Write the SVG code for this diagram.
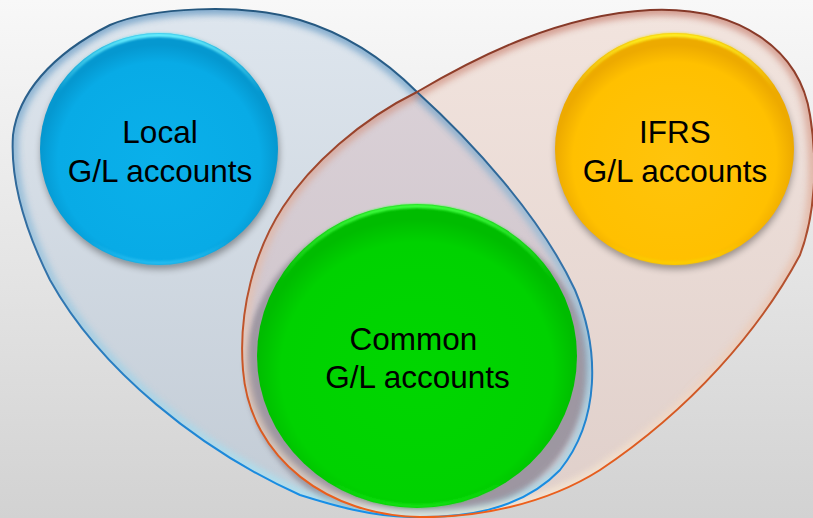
<svg xmlns="http://www.w3.org/2000/svg" width="813" height="518" viewBox="0 0 813 518">
<style>
.lbl{font-family:"Liberation Sans",Arial,sans-serif;font-size:31.5px;fill:#000;text-anchor:middle}
</style>
<defs>
<linearGradient id="bg" x1="0" y1="0" x2="0" y2="1"><stop offset="0" stop-color="#F8F8F8"/><stop offset="1" stop-color="#D2D2D2"/></linearGradient>
<linearGradient id="blueFill" x1="0" y1="0" x2="0" y2="1"><stop offset="0" stop-color="#DEE6EE"/><stop offset="1" stop-color="#C2CBD5"/></linearGradient>
<linearGradient id="orangeFill" x1="0" y1="0" x2="0" y2="1"><stop offset="0" stop-color="#F2E4DE"/><stop offset="1" stop-color="#DFCFCA"/></linearGradient>
<linearGradient id="overFill" x1="0" y1="0" x2="0" y2="1"><stop offset="0" stop-color="#DDD4DA"/><stop offset="1" stop-color="#C9BEC5"/></linearGradient>
<linearGradient id="blueEdge" x1="0" y1="0" x2="0" y2="1"><stop offset="0" stop-color="#25577E"/><stop offset="0.5" stop-color="#3572A8"/><stop offset="1" stop-color="#1590EA"/></linearGradient>
<linearGradient id="blueGlow" x1="0" y1="0" x2="0" y2="1"><stop offset="0" stop-color="#4A86B8"/><stop offset="0.45" stop-color="#7FB6D8"/><stop offset="1" stop-color="#A8F0FF"/></linearGradient>
<linearGradient id="orangeEdge" x1="0" y1="0" x2="0" y2="1"><stop offset="0" stop-color="#843828"/><stop offset="0.5" stop-color="#B05030"/><stop offset="1" stop-color="#F0601A"/></linearGradient>
<linearGradient id="orangeGlow" x1="0" y1="0" x2="0" y2="1"><stop offset="0" stop-color="#C07060"/><stop offset="0.5" stop-color="#E8B8A0"/><stop offset="1" stop-color="#FFF4DC"/></linearGradient>
<path id="blueShape" d="M 13 135 C 18 95, 50 55, 110 25 C 150 8, 240 2, 300 20 C 350 35, 390 65, 417 92 C 470 140, 540 215, 575 290 C 600 350, 600 420, 560 470 C 520 512, 460 518, 410 517 C 370 516, 335 506, 300 495 C 200 450, 100 370, 50 280 C 25 230, 10 180, 13 135 Z"/>
<path id="orangeShape" d="M 417 92 C 480 55, 560 15, 650 10 C 740 6, 800 50, 810 115 C 818 165, 815 215, 800 255 C 760 330, 690 410, 600 470 C 545 505, 475 518, 420 517 C 330 516, 250 460, 243 370 C 238 310, 255 250, 283 207 C 310 165, 360 120, 417 92 Z"/>
<clipPath id="clipBlue"><use href="#blueShape"/></clipPath>
<clipPath id="clipOrange"><use href="#orangeShape"/></clipPath>
<filter id="blur3" x="-10%" y="-10%" width="120%" height="120%"><feGaussianBlur stdDeviation="3"/></filter>
<filter id="blur1" x="-10%" y="-10%" width="120%" height="120%"><feGaussianBlur stdDeviation="1.2"/></filter>
<filter id="shadow" x="-20%" y="-20%" width="140%" height="140%"><feGaussianBlur stdDeviation="3.5"/></filter>
<filter id="ring" x="-20%" y="-20%" width="140%" height="140%"><feGaussianBlur stdDeviation="2.5"/></filter>
<radialGradient id="gBlue" cx="0.5" cy="0.55" r="0.5"><stop offset="0" stop-color="#0AB0EA"/><stop offset="0.85" stop-color="#08ABE6"/><stop offset="1" stop-color="#0598D0"/></radialGradient>
<radialGradient id="gYellow" cx="0.5" cy="0.55" r="0.5"><stop offset="0" stop-color="#FFC40C"/><stop offset="0.85" stop-color="#FFC000"/><stop offset="1" stop-color="#EDAA00"/></radialGradient>
<radialGradient id="gGreen" cx="0.5" cy="0.55" r="0.5"><stop offset="0" stop-color="#00D600"/><stop offset="0.85" stop-color="#00D200"/><stop offset="1" stop-color="#00BC00"/></radialGradient>
<linearGradient id="hlBlue" x1="0" y1="0" x2="0" y2="1"><stop offset="0" stop-color="#6AF0FF"/><stop offset="0.25" stop-color="#6AF0FF" stop-opacity="0"/><stop offset="0.9" stop-color="#40D0FF" stop-opacity="0"/><stop offset="1" stop-color="#40D0FF" stop-opacity="0.5"/></linearGradient>
<linearGradient id="hlYellow" x1="0" y1="0" x2="0" y2="1"><stop offset="0" stop-color="#FFF020"/><stop offset="0.25" stop-color="#FFF020" stop-opacity="0"/><stop offset="0.9" stop-color="#FFE000" stop-opacity="0"/><stop offset="1" stop-color="#FFE000" stop-opacity="0.5"/></linearGradient>
<linearGradient id="hlGreen" x1="0" y1="0" x2="0" y2="1"><stop offset="0" stop-color="#40FF40"/><stop offset="0.25" stop-color="#40FF40" stop-opacity="0"/><stop offset="0.9" stop-color="#20F020" stop-opacity="0"/><stop offset="1" stop-color="#20F020" stop-opacity="0.5"/></linearGradient>
</defs>

<rect x="0" y="0" width="813" height="518" fill="url(#bg)"/>

<g id="set-local">
  <use href="#blueShape" fill="url(#blueFill)"/>
</g>
<g id="set-ifrs">
  <use href="#orangeShape" fill="url(#orangeFill)"/>
</g>
<g id="set-overlap" clip-path="url(#clipBlue)">
  <use href="#orangeShape" fill="url(#overFill)"/>
  <ellipse cx="417" cy="367" rx="172" ry="158" fill="#8E8894" opacity="0.75" filter="url(#ring)"/>
</g>

<g id="blob-edges">
  <g clip-path="url(#clipBlue)">
    <use href="#blueShape" fill="none" stroke="url(#blueGlow)" stroke-width="12" opacity="0.6" filter="url(#blur3)"/>
  </g>
  <g clip-path="url(#clipOrange)">
    <use href="#orangeShape" fill="none" stroke="url(#orangeGlow)" stroke-width="12" opacity="0.6" filter="url(#blur3)"/>
  </g>
  <use href="#blueShape" fill="none" stroke="url(#blueEdge)" stroke-width="2"/>
  <use href="#orangeShape" fill="none" stroke="url(#orangeEdge)" stroke-width="2"/>
</g>

<g id="node-local">
  <ellipse cx="160" cy="153" rx="119" ry="116" fill="#000" opacity="0.35" filter="url(#shadow)"/>
  <ellipse cx="159" cy="149" rx="119" ry="116" fill="url(#gBlue)"/>
  <ellipse cx="159" cy="149" rx="117" ry="114" fill="none" stroke="url(#hlBlue)" stroke-width="4" filter="url(#blur1)"/>
  <text class="lbl" x="160" y="143">Local</text>
  <text class="lbl" x="160" y="182">G/L accounts</text>
</g>

<g id="node-ifrs">
  <ellipse cx="675" cy="153" rx="119" ry="116" fill="#000" opacity="0.35" filter="url(#shadow)"/>
  <ellipse cx="674.5" cy="149" rx="119.5" ry="116" fill="url(#gYellow)"/>
  <ellipse cx="674.5" cy="149" rx="117.5" ry="114" fill="none" stroke="url(#hlYellow)" stroke-width="4" filter="url(#blur1)"/>
  <text class="lbl" x="675" y="143">IFRS</text>
  <text class="lbl" x="675" y="182">G/L accounts</text>
</g>

<g id="node-common">
  <ellipse cx="417" cy="356" rx="160" ry="152" fill="url(#gGreen)"/>
  <ellipse cx="417" cy="356" rx="158" ry="150" fill="none" stroke="url(#hlGreen)" stroke-width="4" filter="url(#blur1)"/>
  <text class="lbl" x="413.5" y="350">Common</text>
  <text class="lbl" x="417.5" y="388">G/L accounts</text>
</g>

<g id="connectors"/>
</svg>
